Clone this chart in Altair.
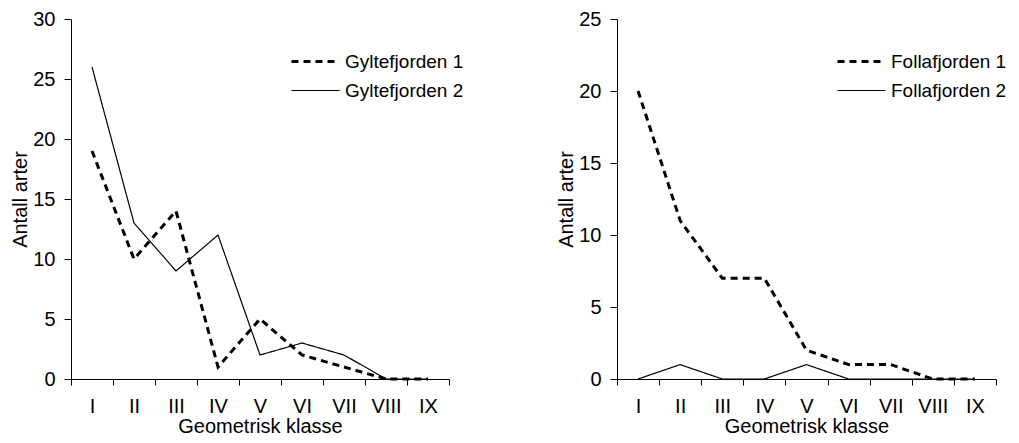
import altair as alt
import pandas as pd

classes = ["I", "II", "III", "IV", "V", "VI", "VII", "VIII", "IX"]
gylte_names = ["Gyltefjorden 1", "Gyltefjorden 2"]
gylte1 = [19, 10, 14, 1, 5, 2, 1, 0, 0]
gylte2 = [26, 13, 9, 12, 2, 3, 2, 0, 0]
folla_names = ["Follafjorden 1", "Follafjorden 2"]
folla1 = [20, 11, 7, 7, 2, 1, 1, 0, 0]
folla2 = [0, 1, 0, 0, 1, 0, 0, 0, 0]

FONT = "Liberation Sans"
FS = 20


def make_df(names, series):
    rows = []
    for name, vals in zip(names, series):
        for i, (c, v) in enumerate(zip(classes, vals)):
            rows.append({"klasse": c, "pos": i + 0.5, "antall": v, "serie": name})
    return pd.DataFrame(rows)


roman_js = "[" + ",".join("'" + c + "'" for c in classes) + "]"
label_expr = f"datum.value % 1 != 0 ? {roman_js}[floor(datum.value)] : ''"
tick_vals = [i * 0.5 for i in range(2 * len(classes) + 1)]


def panel(df, names, ymax, width):
    legend = alt.Legend(
        orient="none", legendX=219, legendY=29, title=None,
        symbolType="stroke", symbolSize=48 * 48, symbolStrokeColor="black",
        labelFont=FONT, labelFontSize=19, labelColor="black", labelOffset=4,
        padding=0, rowPadding=2, clipHeight=27,
    )
    return alt.Chart(df).mark_line(color="black").encode(
        x=alt.X(
            "pos:Q",
            scale=alt.Scale(domain=[0, len(classes)], nice=False, zero=False),
            axis=alt.Axis(
                values=tick_vals, labelExpr=label_expr, labelOverlap=False,
                labelFlush=False, grid=False,
                tickOpacity={"condition": {"test": "datum.value % 1 != 0", "value": 0}, "value": 1},
                tickSize=6, labelPadding=11, titlePadding=0,
            ),
            title="Geometrisk klasse",
        ),
        y=alt.Y(
            "antall:Q",
            scale=alt.Scale(domain=[0, ymax], nice=False),
            axis=alt.Axis(values=list(range(0, ymax + 1, 5)), grid=False,
                          tickSize=7, labelPadding=9, titlePadding=2),
            title="Antall arter",
        ),
        strokeDash=alt.StrokeDash("serie:N", scale=alt.Scale(domain=names, range=[[7, 5], [1, 0]]), legend=legend),
        strokeWidth=alt.StrokeWidth("serie:N", scale=alt.Scale(domain=names, range=[3, 1.2]), legend=legend),
    ).properties(width=width, height=360)


left = panel(make_df(gylte_names, [gylte1, gylte2]), gylte_names, 30, 378)
right = panel(make_df(folla_names, [folla1, folla2]), folla_names, 25, 379)

chart = alt.hconcat(left, right, spacing=92).resolve_scale(
    x="independent", y="independent", strokeDash="independent", strokeWidth="independent"
).resolve_legend(strokeDash="independent", strokeWidth="independent").properties(
    padding={"left": 2, "top": 1, "right": 0, "bottom": 0}
).configure_view(stroke=None).configure_axis(
    domainColor="black", tickColor="black", labelColor="black", titleColor="black",
    labelFont=FONT, titleFont=FONT, labelFontSize=FS, titleFontSize=FS,
    titleFontWeight="normal", domainWidth=1, tickWidth=1,
)

chart.save("out.html", embed_options={"renderer": "svg", "actions": False})
